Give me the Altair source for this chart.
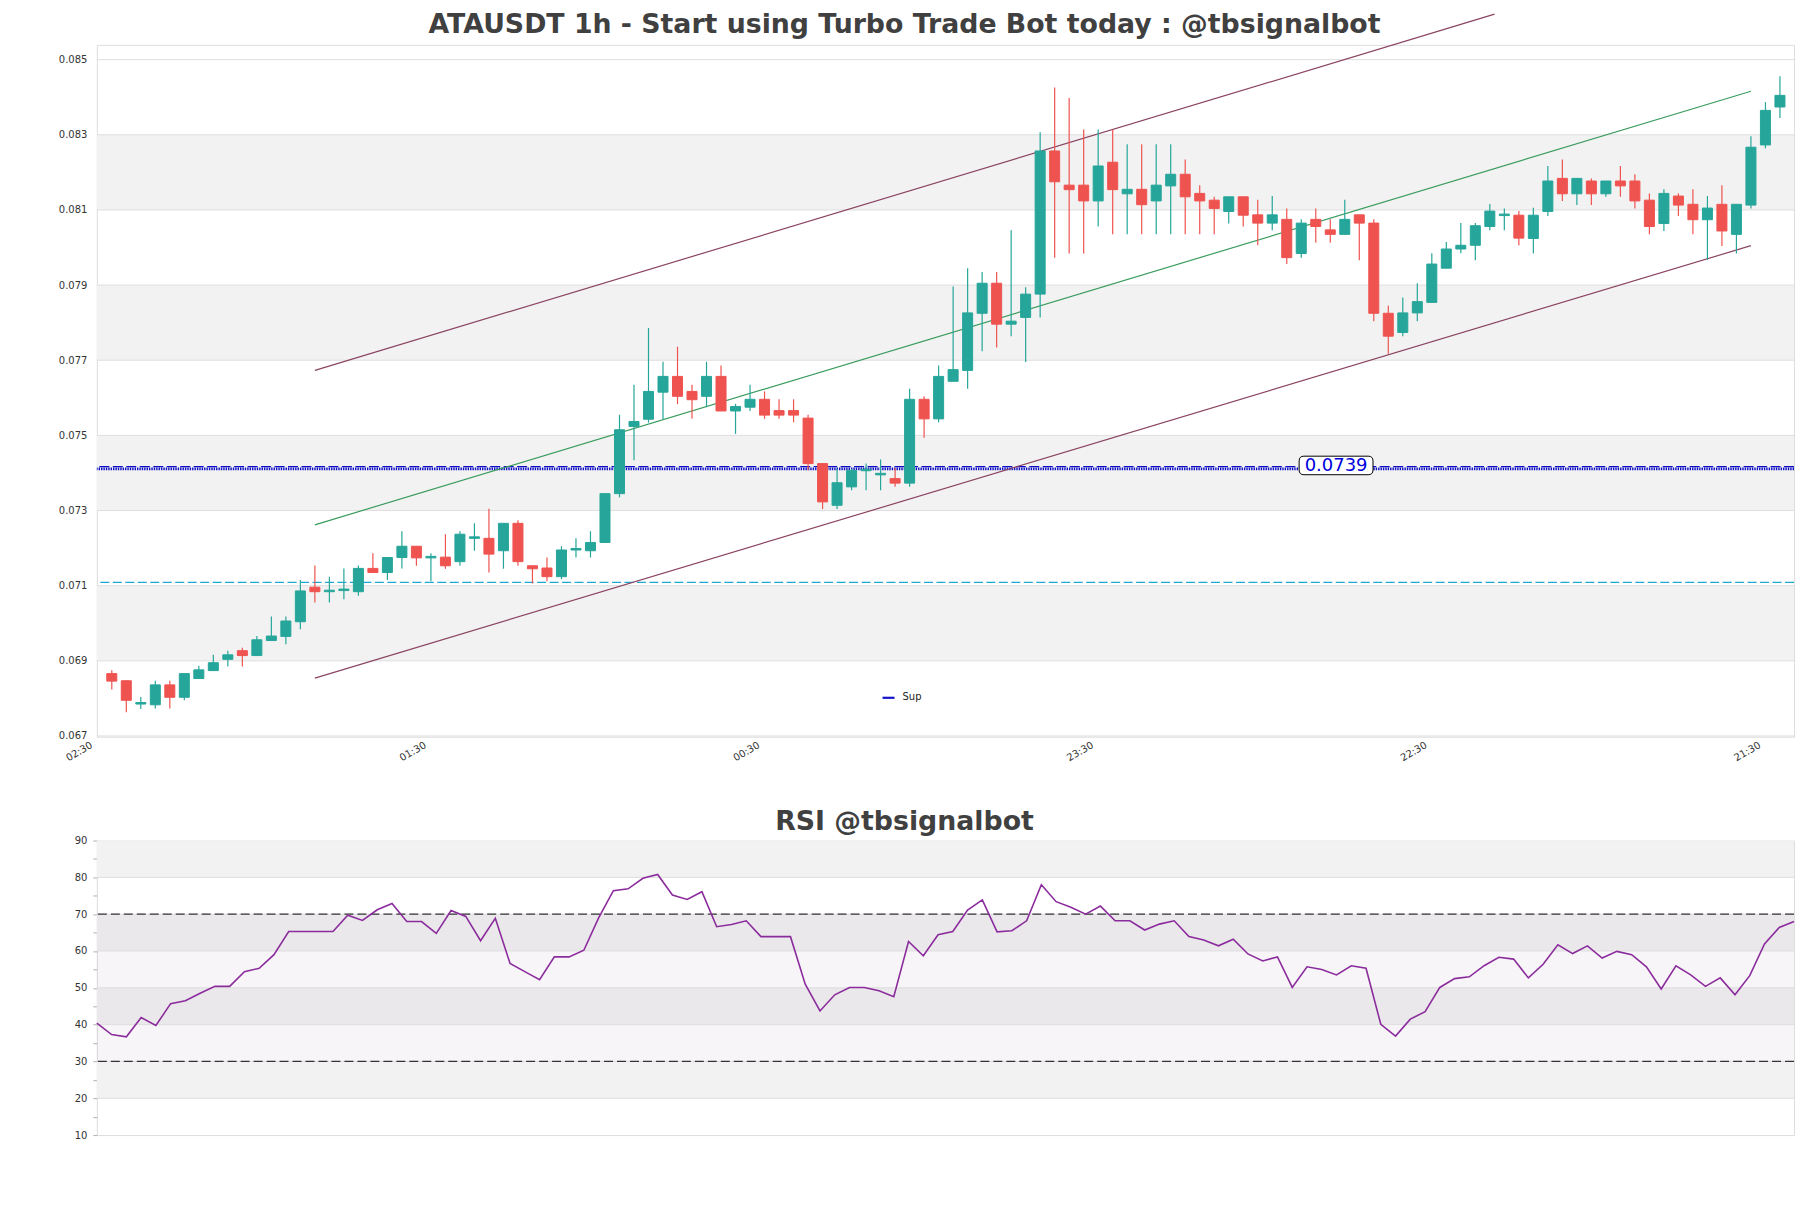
import altair as alt
import pandas as pd

# ---------------- data ----------------
open_p = [0.06866, 0.06847, 0.06785, 0.06783, 0.06836, 0.06803, 0.06853, 0.06874, 0.06904, 0.06927,
          0.06914, 0.06954, 0.06965, 0.07004, 0.07096, 0.07084, 0.07087, 0.07084, 0.07146, 0.07135,
          0.07175, 0.07205, 0.07174, 0.07176, 0.07164, 0.07226, 0.07226, 0.07193, 0.07266, 0.07153,
          0.07147, 0.07124, 0.07195, 0.07193, 0.07215, 0.07345, 0.07524, 0.07543, 0.07615, 0.07657,
          0.07617, 0.07604, 0.07657, 0.07565, 0.07575, 0.07596, 0.07566, 0.07566, 0.07546, 0.07425,
          0.07314, 0.07363, 0.07406, 0.07395, 0.07385, 0.07373, 0.07596, 0.07544, 0.07644, 0.07673,
          0.07825, 0.07905, 0.07796, 0.07814, 0.07876, 0.08257, 0.08166, 0.08166, 0.08124, 0.08227,
          0.08143, 0.08155, 0.08124, 0.08164, 0.08195, 0.08144, 0.08126, 0.08096, 0.08135, 0.08087,
          0.08065, 0.08075, 0.07984, 0.08075, 0.08047, 0.08035, 0.08087, 0.08065, 0.07825, 0.07774,
          0.07826, 0.07854, 0.07945, 0.07996, 0.08006, 0.08056, 0.08085, 0.08086, 0.08024, 0.08096,
          0.08184, 0.08143, 0.08177, 0.08143, 0.08177, 0.08177, 0.08126, 0.08064, 0.08137, 0.08115,
          0.08074, 0.08115, 0.08035, 0.08113, 0.08273, 0.08374]
high_p = [0.06875, 0.06848, 0.06804, 0.06847, 0.06847, 0.06866, 0.06887, 0.06916, 0.06927, 0.06935,
          0.06966, 0.07018, 0.07018, 0.07115, 0.07154, 0.07124, 0.07146, 0.07154, 0.07186, 0.07175,
          0.07245, 0.07205, 0.07186, 0.07237, 0.07245, 0.07266, 0.07305, 0.07266, 0.07274, 0.07153,
          0.07175, 0.07205, 0.07226, 0.07245, 0.07345, 0.07555, 0.07635, 0.07786, 0.07696, 0.07736,
          0.07635, 0.07696, 0.07686, 0.07584, 0.07635, 0.07617, 0.07596, 0.07596, 0.07555, 0.07425,
          0.07411, 0.07411, 0.07425, 0.07436, 0.07413, 0.07624, 0.07604, 0.07686, 0.07896, 0.07945,
          0.07935, 0.07935, 0.08046, 0.07894, 0.08307, 0.08426, 0.08398, 0.08314, 0.08314, 0.08314,
          0.08275, 0.08275, 0.08275, 0.08275, 0.08234, 0.08166, 0.08135, 0.08135, 0.08135, 0.08127,
          0.08137, 0.08104, 0.08075, 0.08104, 0.08075, 0.08127, 0.08087, 0.08075, 0.07845, 0.07867,
          0.07905, 0.07985, 0.08015, 0.08065, 0.08065, 0.08116, 0.08104, 0.08097, 0.08106, 0.08217,
          0.08234, 0.08184, 0.08184, 0.08177, 0.08217, 0.08195, 0.08144, 0.08155, 0.08144, 0.08155,
          0.08137, 0.08166, 0.08115, 0.08296, 0.08387, 0.08456]
low_p = [0.06824, 0.06763, 0.06772, 0.06773, 0.06773, 0.06795, 0.06853, 0.06874, 0.06885, 0.06885,
         0.06914, 0.06954, 0.06944, 0.06984, 0.07055, 0.07055, 0.07064, 0.07073, 0.07135, 0.07115,
         0.07146, 0.07153, 0.07112, 0.07145, 0.07153, 0.07193, 0.07135, 0.07145, 0.07153, 0.07106,
         0.07112, 0.07117, 0.07175, 0.07175, 0.07215, 0.07335, 0.07434, 0.07534, 0.07543, 0.07583,
         0.07544, 0.07575, 0.07565, 0.07504, 0.07565, 0.07544, 0.07544, 0.07535, 0.07407, 0.07304,
         0.07304, 0.07354, 0.07354, 0.07354, 0.07363, 0.07363, 0.07494, 0.07535, 0.07644, 0.07624,
         0.07724, 0.07734, 0.07764, 0.07695, 0.07814, 0.07973, 0.07984, 0.07984, 0.08056, 0.08035,
         0.08035, 0.08035, 0.08035, 0.08035, 0.08035, 0.08035, 0.08035, 0.08064, 0.08056, 0.08006,
         0.08046, 0.07956, 0.07973, 0.08013, 0.08013, 0.08035, 0.07966, 0.07804, 0.07717, 0.07764,
         0.07804, 0.07854, 0.07945, 0.07985, 0.07966, 0.08046, 0.08046, 0.08006, 0.07984, 0.08084,
         0.08124, 0.08113, 0.08113, 0.08135, 0.08135, 0.08104, 0.08035, 0.08044, 0.08084, 0.08035,
         0.07967, 0.08004, 0.07984, 0.08104, 0.08264, 0.08345]
close_p = [0.06846, 0.06795, 0.06789, 0.06836, 0.06803, 0.06866, 0.06876, 0.06895, 0.06916, 0.06914,
           0.06956, 0.06966, 0.07006, 0.07086, 0.07084, 0.07088, 0.07091, 0.07146, 0.07135, 0.07175,
           0.07205, 0.07174, 0.07178, 0.07153, 0.07237, 0.07230, 0.07184, 0.07266, 0.07164, 0.07145,
           0.07124, 0.07195, 0.07199, 0.07215, 0.07345, 0.07515, 0.07537, 0.07617, 0.07657, 0.07604,
           0.07595, 0.07657, 0.07565, 0.07577, 0.07596, 0.07554, 0.07554, 0.07554, 0.07425, 0.07323,
           0.07374, 0.07407, 0.07410, 0.07399, 0.07373, 0.07596, 0.07544, 0.07657, 0.07675, 0.07826,
           0.07905, 0.07796, 0.07804, 0.07876, 0.08257, 0.08175, 0.08154, 0.08124, 0.08217, 0.08154,
           0.08155, 0.08114, 0.08166, 0.08195, 0.08135, 0.08124, 0.08104, 0.08135, 0.08086, 0.08065,
           0.08087, 0.07973, 0.08065, 0.08056, 0.08035, 0.08075, 0.08065, 0.07825, 0.07764, 0.07826,
           0.07856, 0.07956, 0.07996, 0.08006, 0.08058, 0.08097, 0.08089, 0.08025, 0.08086, 0.08177,
           0.08143, 0.08184, 0.08143, 0.08177, 0.08164, 0.08124, 0.08056, 0.08144, 0.08113, 0.08074,
           0.08105, 0.08044, 0.08115, 0.08267, 0.08365, 0.08405]

rsi_vals = [40.4, 37.3, 36.7, 41.9, 39.75, 45.7, 46.5, 48.5, 50.4, 50.4,
            54.4, 55.3, 59.0, 65.3, 65.3, 65.3, 65.3, 69.7, 68.3, 71.2,
            72.9, 68.0, 68.0, 64.8, 71.0, 69.4, 62.8, 68.9, 56.6, 54.4,
            52.2, 58.4, 58.4, 60.2, 69.0, 76.4, 76.9, 79.75, 80.8, 75.2,
            74.0, 76.1, 66.6, 67.2, 68.2, 63.9, 63.9, 63.9, 51.0, 43.7,
            48.1, 50.1, 50.1, 49.2, 47.6, 62.6, 58.7, 64.4, 65.3, 71.1,
            73.9, 65.2, 65.5, 68.2, 78.0, 73.4, 71.9, 70.0, 72.2, 68.2,
            68.2, 65.7, 67.3, 68.2, 63.9, 63.0, 61.4, 63.2, 59.2, 57.3,
            58.4, 50.1, 55.7, 55.0, 53.5, 56.0, 55.3, 40.1, 36.9, 41.5,
            43.5, 50.1, 52.5, 53.0, 56.0, 58.3, 57.8, 52.7, 56.4, 61.7,
            59.3, 61.4, 58.1, 59.9, 59.0, 55.7, 49.7, 56.0, 53.5, 50.4,
            52.7, 48.1, 53.3, 61.9, 66.4, 68.0]

tick_pos = [0, 23, 46, 69, 92, 115]
tick_labels = ["02:30", "01:30", "00:30", "23:30", "22:30", "21:30"]
price_ticks = [0.067, 0.069, 0.071, 0.073, 0.075, 0.077, 0.079, 0.081, 0.083, 0.085]
price_band_lo = [0.069, 0.073, 0.077, 0.081]
price_band_hi = [0.071, 0.075, 0.079, 0.083]
rsi_ticks = [10, 15, 20, 25, 30, 35, 40, 45, 50, 55, 60, 65, 70, 75, 80, 85, 90]
rsi_grid = [20, 30, 40, 50, 60, 70, 80]
rsi_band_lo = [20, 40, 60, 80]
rsi_band_hi = [30, 50, 70, 90]
rsi_levels = [30, 70]
rsi_zone = [30, 70]

channel_idx = [14, 113]
channel_upper = [0.07673, 0.08827]
channel_mid = [0.07262, 0.08416]
channel_lower = [0.06854, 0.08005]

sup_dashed = [0.07417]
sup_dotted = [0.07411]
level_cyan = [0.07109]
sup_label_text = ["0.0739"]
sup_label_idx = [84.4]
sup_label_price = [0.07420]
legend_labels = ["Sup"]

main_title = ["ATAUSDT 1h - Start using Turbo Trade Bot today : @tbsignalbot"]
rsi_title = "RSI @tbsignalbot"

# ---------------- style ----------------
FONT = "DejaVu Sans"
GREEN = "#26a69a"
RED = "#ef5350"
BAND = "#f2f2f2"
GRID = "#dedede"
W = 1700
H1 = 693
H2 = 295
CANVAS_TOP_PRICE = 0.08621  # where the page edge cuts the upper channel line
TITLE_SIZE = 26.8

n = len(open_p)
candles = pd.DataFrame({"i": list(range(n)), "open": open_p, "high": high_p,
                        "low": low_p, "close": close_p})

xs = alt.Scale(domain=[-1.03, 115.97], nice=False, zero=False)
ys = alt.Scale(domain=[0.06698, 0.085393], nice=False, zero=False)

label_expr = "[" + ",".join("'%s'" % t for t in tick_labels) + "][indexof([" + \
    ",".join(str(p) for p in tick_pos) + "], datum.value)]"

x_axis = alt.Axis(values=tick_pos, labelExpr=label_expr, labelAngle=-30, labelAlign="right",
                  labelBaseline="top", labelFontSize=10, labelFont=FONT, labelColor="#333333",
                  tickSize=0, labelPadding=3, labelOffset=-23, labelFlush=False,
                  labelOverlap=False, domain=False, grid=False, title=None)
y_axis = alt.Axis(values=price_ticks, format=".3f", labelFontSize=10, labelFont=FONT,
                  labelColor="#333333", tickSize=0, labelPadding=10, domain=False,
                  grid=False, title=None, labelFlush=False)

X = lambda f: alt.X(f, scale=xs, axis=x_axis)
Y = lambda f: alt.Y(f, scale=ys, axis=y_axis)

bands = alt.Chart(pd.DataFrame({"lo": price_band_lo, "hi": price_band_hi})).mark_rect(
    fill=BAND).encode(y=Y("lo:Q"), y2="hi:Q", x=alt.value(0), x2=alt.value(W))

grid = alt.Chart(pd.DataFrame({"p": price_ticks})).mark_rule(
    color=GRID, strokeWidth=1).encode(y=Y("p:Q"))

cyan = alt.Chart(pd.DataFrame({"p": level_cyan})).mark_rule(
    color="#1fa8cf", strokeWidth=1.3, strokeDash=[9, 3.5]).encode(y=Y("p:Q"))
blue_dash = alt.Chart(pd.DataFrame({"p": sup_dashed})).mark_rule(
    color="#0c0cc4", strokeWidth=1.3, strokeDash=[10, 3.5]).encode(y=Y("p:Q"))
blue_dot = alt.Chart(pd.DataFrame({"p": sup_dotted})).mark_rule(
    color="#0c0cc4", strokeWidth=2.6, strokeDash=[1.4, 1.0]).encode(y=Y("p:Q"))

# channel lines (upper line runs off the top of the page)
frac = (CANVAS_TOP_PRICE - channel_upper[0]) / (channel_upper[1] - channel_upper[0])
up_end_idx = channel_idx[0] + frac * (channel_idx[1] - channel_idx[0])
ch_rows = []
ch_rows += [{"i": channel_idx[0], "p": channel_upper[0], "k": "upper"},
            {"i": up_end_idx, "p": CANVAS_TOP_PRICE, "k": "upper"}]
ch_rows += [{"i": channel_idx[j], "p": channel_mid[j], "k": "mid"} for j in range(2)]
ch_rows += [{"i": channel_idx[j], "p": channel_lower[j], "k": "lower"} for j in range(2)]
channels = alt.Chart(pd.DataFrame(ch_rows)).mark_line(strokeWidth=1.2, clip=False).encode(
    x=X("i:Q"), y=Y("p:Q"),
    color=alt.Color("k:N", scale=alt.Scale(domain=["upper", "mid", "lower"],
                                           range=["#8a4462", "#3a9c5e", "#8a4462"]),
                    legend=None),
    detail="k:N")

col = alt.condition("datum.close >= datum.open", alt.value(GREEN), alt.value(RED))
wicks = alt.Chart(candles).mark_rule(strokeWidth=1.2).encode(
    x=X("i:Q"), y=Y("low:Q"), y2="high:Q", color=col)
bodies = alt.Chart(candles).transform_calculate(
    xl="datum.i - 0.345", xr="datum.i + 0.345").mark_rect(strokeWidth=1).encode(
    x=X("xl:Q"), x2="xr:Q", y=Y("open:Q"), y2="close:Q", fill=col, stroke=col)

box_path = ("M-0.87,-0.251 L0.87,-0.251 Q1,-0.251 1,-0.121 L1,0.121 Q1,0.251 0.87,0.251 "
            "L-0.87,0.251 Q-1,0.251 -1,0.121 L-1,-0.121 Q-1,-0.251 -0.87,-0.251 Z")
lab_df = pd.DataFrame({"i": sup_label_idx, "p": sup_label_price, "t": sup_label_text})
lab_box = alt.Chart(lab_df).mark_point(shape=box_path, size=74 * 74, filled=True, fill="white",
                                       stroke="black", strokeWidth=1, opacity=1).encode(
    x=X("i:Q"), y=Y("p:Q"))
lab_txt = alt.Chart(lab_df).mark_text(font=FONT, fontSize=18, color="#0000dd",
                                      align="center", baseline="middle", dy=1).encode(
    x=X("i:Q"), y=Y("p:Q"), text="t:N")

leg_df = pd.DataFrame({"t": legend_labels})
leg_line = alt.Chart(leg_df).mark_rule(color="#1414c8", strokeWidth=2.2).encode(
    x=alt.value(787), x2=alt.value(799), y=alt.value(654))
leg_txt = alt.Chart(leg_df).mark_text(font=FONT, fontSize=10, color="#222222", align="left",
                                      baseline="middle").encode(
    x=alt.value(807), y=alt.value(653), text="t:N")

# figure title, centred on the figure (not on the plot area)
title_txt = alt.Chart(pd.DataFrame({"t": main_title})).mark_text(
    font=FONT, fontSize=TITLE_SIZE, fontWeight="bold", color="#404040",
    align="center", baseline="middle").encode(
    x=alt.value(809), y=alt.value(-19.6), text="t:N")

upper = alt.layer(bands, grid, cyan, blue_dash, blue_dot, channels, wicks, bodies,
                  lab_box, lab_txt, leg_line, leg_txt, title_txt).properties(
    width=W, height=H1)

# ---------------- RSI ----------------
rsi_df = pd.DataFrame({"i": list(range(n)), "rsi": rsi_vals})
xr = alt.Scale(domain=[0, n - 1], nice=False, zero=False)
yr = alt.Scale(domain=[10, 90], nice=False, zero=False)
ry_axis = alt.Axis(values=rsi_ticks, labelExpr="datum.value % 10 == 0 ? datum.label : ''",
                   labelFontSize=10, labelFont=FONT, labelColor="#333333", tickSize=4,
                   tickColor="#b0b0b0", labelPadding=6, domain=False, grid=False, title=None,
                   labelFlush=False)
RY = lambda f: alt.Y(f, scale=yr, axis=ry_axis)

r_bands = alt.Chart(pd.DataFrame({"lo": rsi_band_lo, "hi": rsi_band_hi})).mark_rect(
    fill=BAND).encode(y=RY("lo:Q"), y2="hi:Q", x=alt.value(0), x2=alt.value(W))
r_zone = alt.Chart(pd.DataFrame({"lo": [rsi_zone[0]], "hi": [rsi_zone[1]]})).mark_rect(
    fill="#9a70b0", opacity=0.07).encode(y=RY("lo:Q"), y2="hi:Q", x=alt.value(0), x2=alt.value(W))
r_grid = alt.Chart(pd.DataFrame({"v": rsi_grid})).mark_rule(color=GRID, strokeWidth=1).encode(
    y=RY("v:Q"))
r_levels = alt.Chart(pd.DataFrame({"v": rsi_levels})).mark_rule(
    color="#333333", strokeWidth=1.3, strokeDash=[9, 4]).encode(y=RY("v:Q"))
r_line = alt.Chart(rsi_df).mark_line(color="#8b2c9c", strokeWidth=1.6).encode(
    x=alt.X("i:Q", scale=xr, axis=None), y=RY("rsi:Q"))

lower = alt.layer(r_bands, r_zone, r_grid, r_levels, r_line).properties(
    width=W, height=H2,
    title=alt.TitleParams(rsi_title, font=FONT, fontSize=TITLE_SIZE, fontWeight="bold",
                          color="#404040", anchor="middle", offset=0, dx=-41))

chart = alt.vconcat(upper, lower, spacing=104, bounds="flush").properties(
    padding={"left": 49, "top": 2, "right": 5, "bottom": 5}
).configure_view(stroke="#d8d8d8", strokeWidth=1).configure(background="white")

chart.save("out.html", embed_options={"renderer": "svg", "actions": False})
